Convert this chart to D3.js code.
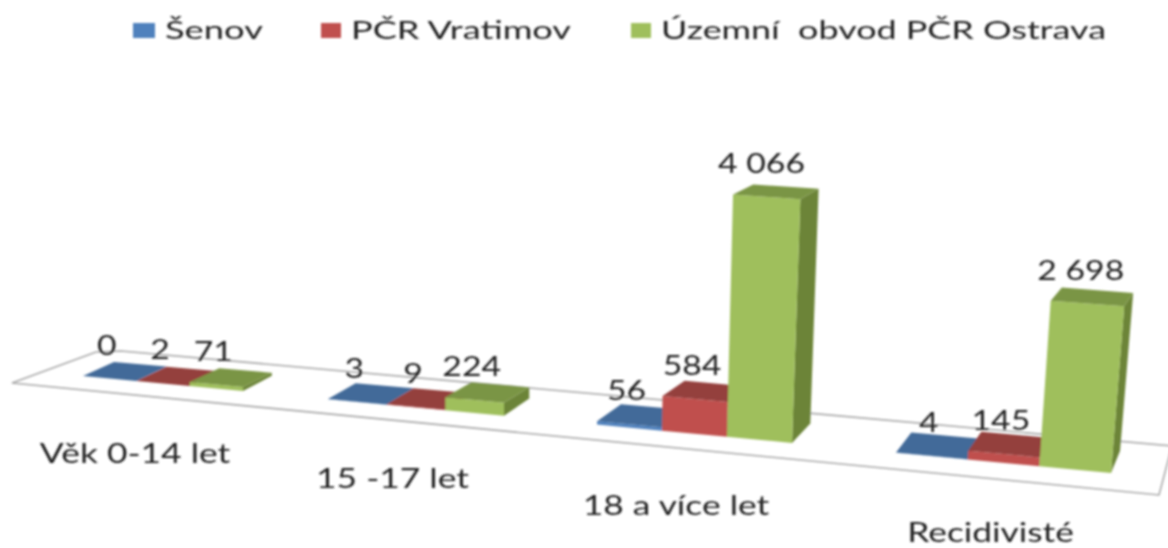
<!DOCTYPE html>
<html><head><meta charset="utf-8">
<script src="https://cdn.jsdelivr.net/npm/d3@7"></script>
<style>html,body{margin:0;padding:0;background:#fff}svg{display:block}text{font-family:Lato,"Open Sans",sans-serif;fill:#222;white-space:pre}</style>
</head><body><svg id="c" width="1168" height="548"></svg>
<script>
const categories = ["Věk 0-14 let","15 -17 let","18 a více let","Recidivisté"];
const seriesNames = ["Šenov","PČR Vratimov","Územní  obvod PČR Ostrava"];
const senov = [0,3,56,4];
const vratimov = [2,9,584,145];
const ostrava = [71,224,4066,2698];
const valueLabels = [["0","2","71"],["3","9","224"],["56","584","4 066"],["4","145","2 698"]];
const seriesValues = [senov,vratimov,ostrava];
const fronts = ["#4f81bd","#c0504d","#9fbf5c"];
const tops = ["#436a99","#943f3d","#7a9545"];
const sides = ["#37587f","#7c3533","#6c8439"];

const W=1168,H=548;
const svg=d3.select("#c");
const defs=svg.append("defs");
defs.append("filter").attr("id","soft").attr("x","-5%").attr("y","-5%").attr("width","110%").attr("height","110%")
  .append("feGaussianBlur").attr("stdDeviation",0.9);
const root=svg.append("g").attr("filter","url(#soft)");

// pseudo-perspective floor: band units mapped to the receding screen positions
const tBand=d3.scaleBand().domain(categories).range([0,3.68]).paddingInner(.32).paddingOuter(0).align(0);
const tSeries=d3.scaleBand().domain(seriesNames).range([0,tBand.bandwidth()]);
const xPersp=d3.scaleLinear().domain([0,.68,1,1.68,2,2.68,3,3.68]).range([83,243,328,504,597,792,896,1111]);
const yFront=d3.scaleLinear().domain([12,1159]).range([369.3,477.6]);
const hScale=d3.scaleLinear().domain([0,4066]).range([0,243]);
const depthX=d3.scaleLinear().domain([83,597,1111]).range([31,24,9]);
const depthY=d3.scaleLinear().domain([83,1111]).range([-14,-22]);
const leanAt=d3.scaleLinear().domain([550,1111]).range([0,.079]);
const growAt=d3.scaleLinear().domain([760,1060]).range([1,1.029]);

function pt(t,v,val){
  const x0=xPersp(t), y0=yFront(x0);
  const h=hScale(val)*growAt(x0);
  const flat=1-.47*Math.sqrt(h/245);
  return [x0+v*depthX(x0)+h*Math.max(leanAt(x0),0), y0+v*depthY(x0)*flat-h];
}
const poly=a=>"M"+a.map(p=>p.join(",")).join("L")+"Z";

// floor outline
const floorPts=[[12,383],[96,352],[121,351],[1172,446],[1159,495]];
root.append("path").attr("d",poly(floorPts)).attr("fill","none").attr("stroke","#a9a9a9").attr("stroke-width",1.6);

categories.forEach((c,i)=>{
  const g=root.append("g");
  seriesNames.forEach((s,k)=>{
    const a=tBand(c)+tSeries(s), b=a+tSeries.bandwidth(), val=seriesValues[k][i];
    g.append("path").attr("d",poly([pt(b,0,0),pt(b,1,0),pt(b,1,val),pt(b,0,val)])).attr("fill",sides[k]);
    g.append("path").attr("d",poly([pt(a,0,0),pt(b,0,0),pt(b,0,val),pt(a,0,val)])).attr("fill",fronts[k]);
    g.append("path").attr("d",poly([pt(a,0,val),pt(b,0,val),pt(b,1,val),pt(a,1,val)])).attr("fill",tops[k]);
  });
});

// value labels: centred over the bar, following most of its lean
const sxVal=1.25;
categories.forEach((c,i)=>{
  seriesNames.forEach((s,k)=>{
    const a=tBand(c)+tSeries(s), b=a+tSeries.bandwidth(), val=seriesValues[k][i];
    const p=pt(a,0,val), q=pt(b,0,val), p0=pt(a,0,0), q0=pt(b,0,0);
    const base=(p0[0]+q0[0])/2, top=(p[0]+q[0])/2;
    root.append("text").attr("transform",`translate(${base-3+.7*(top-base)},${(p[1]+q[1])/2-24}) scale(${sxVal},1)`)
      .attr("text-anchor","middle").attr("font-size",27).text(valueLabels[i][k]);
  });
});

// category labels
const sxCat=1.31;
categories.forEach(c=>{
  const t=tBand(c)+tBand.bandwidth()/2;
  const x=xPersp(t), y=yFront(x);
  const by=Math.min(y+79+x*.003,H-6);
  root.append("text").attr("transform",`translate(${x-31+x*.018},${by}) scale(${sxCat},1)`)
    .attr("text-anchor","middle").attr("font-size",27).text(c);
});

// legend
const legendX=d3.scaleOrdinal().domain(seriesNames).range([133,321,631]);
const legendW=d3.scaleOrdinal().domain(seriesNames).range([98,220,445]);
seriesNames.forEach((s,k)=>{
  const x=legendX(s);
  root.append("rect").attr("x",x).attr("y",23).attr("width",k?20:22).attr("height",15).attr("fill",fronts[k]);
  root.append("text").attr("x",x+(k?30:32)).attr("y",39).attr("font-size",25)
    .attr("textLength",legendW(s)).attr("lengthAdjust","spacingAndGlyphs").text(s);
});
</script></body></html>
